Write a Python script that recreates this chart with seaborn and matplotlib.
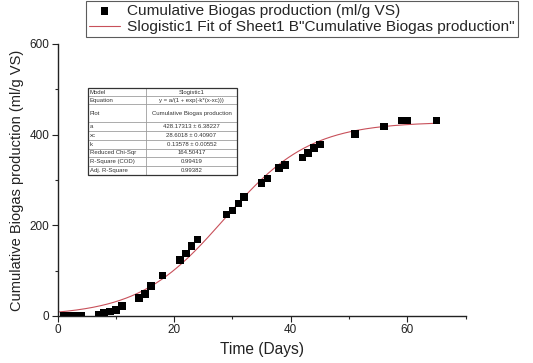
import numpy as np
import pandas as pd
import matplotlib
matplotlib.use("Agg")
import matplotlib.pyplot as plt
import seaborn as sns

# Measured cumulative biogas yield
days = [1, 2, 3, 4, 7, 8, 9, 10, 11, 14, 15, 16, 18, 21, 22, 23, 24,
        29, 30, 31, 32, 35, 36, 38, 39, 42, 43, 44, 45, 51, 56, 59, 60, 65]
biogas = [0, 0, 0, 0, 2, 6, 10, 13, 22, 40, 48, 66, 89, 123, 138, 154, 169,
          224, 233, 248, 263, 294, 303, 327, 333, 350, 360, 370, 378, 402, 418, 431, 431, 431]

# Slogistic1 fit parameters  y = a / (1 + exp(-k (x - xc)))
fit_a = 428.17313
fit_xc = 28.6018
fit_k = 0.13578

table_labels = ["Model", "Equation", "Plot", "a", "xc", "k",
                "Reduced Chi-Sqr", "R-Square (COD)", "Adj. R-Square"]
table_values = ["Slogistic1", "y = a/(1 + exp(-k*(x-xc)))", "Cumulative Biogas production",
                "428.17313 \u00b1 6.38227", "28.6018 \u00b1 0.40907", "0.13578 \u00b1 0.00552",
                "164.50417", "0.99419", "0.99382"]

x_ticks = [0, 20, 40, 60]
y_ticks = [0, 200, 400, 600]

sns.set_style("ticks")
plt.rcParams["font.family"] = ["Liberation Sans", "DejaVu Sans"]

W, H = 533, 363
fig = plt.figure(figsize=(W / 100, H / 100), dpi=100)
ax = fig.add_axes([57.6 / W, 1 - 316 / H, (465.7 - 57.6) / W, (316 - 44) / H])

pts = pd.DataFrame({"Time": days, "Biogas": biogas})
t_fit = np.linspace(0, 65, 300)
fit = pd.DataFrame({"Time": t_fit,
                    "Biogas": fit_a / (1 + np.exp(-fit_k * (t_fit - fit_xc)))})

sns.lineplot(data=fit, x="Time", y="Biogas", ax=ax, color="#c8505a", linewidth=0.8,
             label='Slogistic1 Fit of Sheet1 B"Cumulative Biogas production"', zorder=2)
sns.scatterplot(data=pts, x="Time", y="Biogas", ax=ax, marker="s", s=30, color="black",
                edgecolor="none", label="Cumulative Biogas production (ml/g VS)", zorder=3)

ax.set_xlim(0, 70)
ax.set_ylim(0, 600)
ax.set_xticks(x_ticks)
ax.set_yticks(y_ticks)
ax.set_xticks([10, 30, 50, 70], minor=True)
ax.set_yticks([100, 300, 500], minor=True)
ax.tick_params(which="major", direction="out", length=4, width=0.8, labelsize=8.5,
               colors="#222222", pad=2)
ax.tick_params(which="minor", direction="out", length=2.5, width=0.8)
for side in ("top", "right"):
    ax.spines[side].set_visible(False)
for side in ("left", "bottom"):
    ax.spines[side].set_linewidth(1.0)
    ax.spines[side].set_color("#222222")
ax.set_xlabel("Time (Days)", fontsize=11.2, color="#222222", labelpad=4)
ax.set_ylabel("Cumulative Biogas production (ml/g VS)", fontsize=10.5, color="#222222",
              labelpad=4)

handles, labels = ax.get_legend_handles_labels()
ax.get_legend().remove()
order = [1, 0]
leg = fig.legend([handles[i] for i in order], [labels[i] for i in order],
                 loc="upper left", bbox_to_anchor=(86 / W, 1 - 1 / H),
                 frameon=True, fancybox=False, fontsize=11.1, handlelength=2.0,
                 handletextpad=0.45, borderpad=0.2, labelspacing=0.12, borderaxespad=0)
leg.get_frame().set_edgecolor("#333333")
leg.get_frame().set_linewidth(0.8)

# Fit report table
tax = fig.add_axes([88 / W, 1 - 175 / H, (237 - 88) / W, (175 - 88) / H])
tax.axis("off")
cells = [[lab, val] for lab, val in zip(table_labels, table_values)]
tbl = tax.table(cellText=cells, colWidths=[58, 91], bbox=[0, 0, 1, 1],
                cellLoc="center")
tbl.auto_set_font_size(False)
row_h = [8, 8, 18, 8.8, 8.8, 8.8, 8.8, 8.8, 8.8]
for (r, c), cell in tbl.get_celld().items():
    cell.set_height(row_h[r])
    cell.set_linewidth(0.4)
    cell.set_edgecolor("#888888")
    cell.get_text().set_fontsize(4.3)
    cell.get_text().set_color("#333333")
    if c == 0:
        cell.get_text().set_horizontalalignment("left")
        cell.PAD = 0.03
tax.add_patch(plt.Rectangle((0, 0), 1, 1, fill=False, edgecolor="#333333", linewidth=0.9,
                            transform=tax.transAxes, clip_on=False))

fig.savefig("out.png", dpi=100)
